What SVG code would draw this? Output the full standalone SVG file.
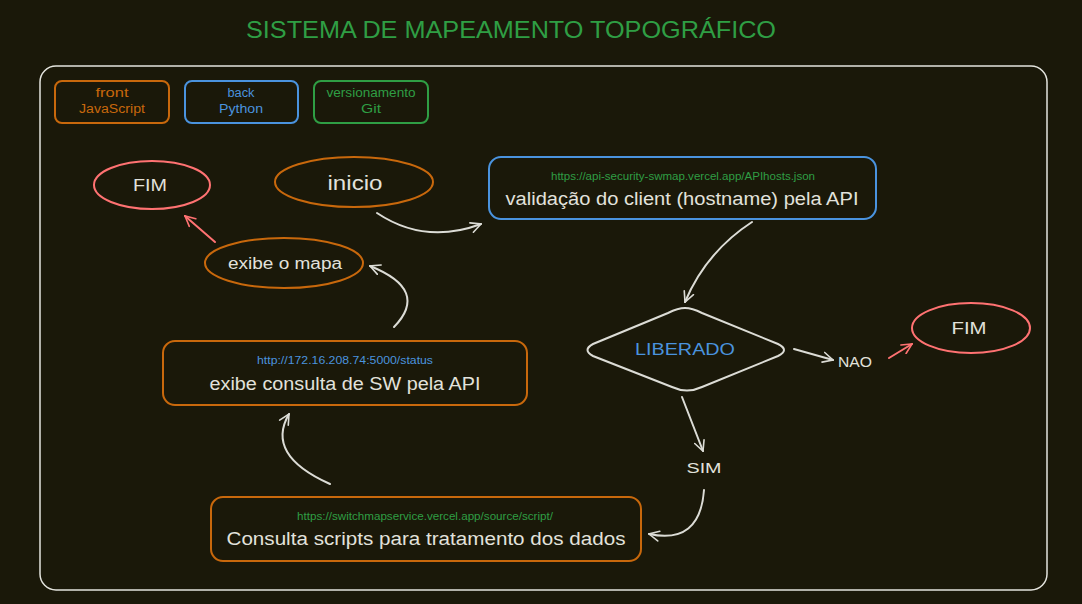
<svg xmlns="http://www.w3.org/2000/svg" width="1082" height="604" viewBox="0 0 1082 604">
<defs>
<style>
.bg{fill:#1a1809}
.t{font-family:"Liberation Sans","DejaVu Sans",sans-serif;fill:#e2e2dc;text-anchor:middle}
.main{font-size:18px}
.url{font-size:10px}
.leg{font-size:12.5px}
.nd{fill:none;stroke-width:2}
.or{stroke:#c8680c}
.bl{stroke:#4a93de}
.gr{stroke:#2f9e44}
.rd{stroke:#ff7272}
.wh{stroke:#dcdcd6}
.conn path{fill:none;stroke-width:2;stroke-linecap:round}
</style>
<marker id="aw" viewBox="0 0 12 12" refX="11" refY="6" markerWidth="12" markerHeight="12" markerUnits="userSpaceOnUse" orient="auto">
<path d="M1,1 L11,6 L1,11" fill="none" stroke="#dcdcd6" stroke-width="1.6" stroke-linecap="round"/>
</marker>
<marker id="ar" viewBox="0 0 12 12" refX="11" refY="6" markerWidth="12" markerHeight="12" markerUnits="userSpaceOnUse" orient="auto">
<path d="M1,1 L11,6 L1,11" fill="none" stroke="#ff7272" stroke-width="1.6" stroke-linecap="round"/>
</marker>
</defs>
<rect class="bg" x="0" y="0" width="1082" height="604"/>
<text x="511" y="38" font-family="'Liberation Sans',sans-serif" font-size="24" fill="#2f9e44" text-anchor="middle" textLength="530" lengthAdjust="spacingAndGlyphs">SISTEMA DE MAPEAMENTO TOPOGRÁFICO</text>
<rect id="frame" x="40" y="66" width="1007" height="524" rx="16" fill="none" stroke="#e4e4de" stroke-width="1.5"/>

<g id="legend-front">
<rect x="55" y="81" width="114" height="42" rx="7" fill="#1f2024" class="nd or"/>
<text class="t leg" x="112" y="97" style="fill:#c8680c" textLength="33" lengthAdjust="spacingAndGlyphs">front</text>
<text class="t leg" x="112" y="113" style="fill:#c8680c" textLength="66" lengthAdjust="spacingAndGlyphs">JavaScript</text>
</g>
<g id="legend-back">
<rect x="185" y="81" width="113" height="42" rx="7" fill="#1f2024" class="nd bl"/>
<text class="t leg" x="241" y="97" style="fill:#4a93de" textLength="27" lengthAdjust="spacingAndGlyphs">back</text>
<text class="t leg" x="241" y="113" style="fill:#4a93de" textLength="44" lengthAdjust="spacingAndGlyphs">Python</text>
</g>
<g id="legend-git">
<rect x="314" y="81" width="114" height="42" rx="7" fill="#1f2024" class="nd gr"/>
<text class="t leg" x="371" y="97" style="fill:#2f9e44" textLength="89" lengthAdjust="spacingAndGlyphs">versionamento</text>
<text class="t leg" x="371" y="113" style="fill:#2f9e44" textLength="20" lengthAdjust="spacingAndGlyphs">Git</text>
</g>

<g id="fim1">
<ellipse cx="152" cy="185" rx="58" ry="24" class="nd rd"/>
<text class="t" x="150" y="191" font-size="16" textLength="34" lengthAdjust="spacingAndGlyphs">FIM</text>
</g>
<g id="inicio">
<ellipse cx="354" cy="182" rx="79" ry="25" class="nd or"/>
<text class="t" x="355" y="190" font-size="20" textLength="55" lengthAdjust="spacingAndGlyphs">inicio</text>
</g>
<g id="exibe-mapa">
<ellipse cx="284" cy="263" rx="79" ry="25" class="nd or"/>
<text class="t" x="285" y="269" font-size="16" textLength="114" lengthAdjust="spacingAndGlyphs">exibe o mapa</text>
</g>
<g id="validacao">
<rect x="489" y="157" width="387" height="62" rx="12" class="nd bl"/>
<text class="t url" x="683" y="180" style="fill:#2f9e44" textLength="264" lengthAdjust="spacingAndGlyphs">https://api-security-swmap.vercel.app/APIhosts.json</text>
<text class="t main" x="682" y="205" textLength="353" lengthAdjust="spacingAndGlyphs">validação do client (hostname) pela API</text>
</g>
<g id="liberado">
<path d="M685,308 Q692,308 702,313 L778,344 Q790,350 778,356 L702,387 Q687,394 672,387 L593,356 Q582,350 593,344 L668,313 Q678,308 685,308 Z" class="nd wh"/>
<text class="t" x="685" y="355" font-size="16" style="fill:#4a93de" textLength="100" lengthAdjust="spacingAndGlyphs">LIBERADO</text>
</g>
<g id="nao">
<text class="t" x="855" y="367" font-size="15" textLength="34" lengthAdjust="spacingAndGlyphs">NAO</text>
</g>
<g id="fim2">
<ellipse cx="971" cy="328" rx="59" ry="25" class="nd rd"/>
<text class="t" x="969" y="334" font-size="16" textLength="35" lengthAdjust="spacingAndGlyphs">FIM</text>
</g>
<g id="sim">
<text class="t" x="704" y="473" font-size="15" textLength="35" lengthAdjust="spacingAndGlyphs">SIM</text>
</g>
<g id="exibe-consulta">
<rect x="163" y="341" width="364" height="64" rx="12" class="nd or"/>
<text class="t url" x="345" y="364" style="fill:#4a93de" textLength="176" lengthAdjust="spacingAndGlyphs">http://172.16.208.74:5000/status</text>
<text class="t main" x="345" y="390" textLength="271" lengthAdjust="spacingAndGlyphs">exibe consulta de SW pela API</text>
</g>
<g id="consulta-scripts">
<rect x="211" y="497" width="430" height="64" rx="12" class="nd or"/>
<text class="t url" x="425" y="520" style="fill:#2f9e44" textLength="256" lengthAdjust="spacingAndGlyphs">https://switchmapservice.vercel.app/source/script/</text>
<text class="t main" x="426" y="545" textLength="399" lengthAdjust="spacingAndGlyphs">Consulta scripts para tratamento dos dados</text>
</g>

<g id="connectors" class="conn">
<path class="wh" d="M377,213 Q425,245 481,224" marker-end="url(#aw)"/>
<path class="wh" d="M752,222 Q706,252 685,302" marker-end="url(#aw)"/>
<path class="wh" d="M794,349 L833,360" marker-end="url(#aw)"/>
<path class="rd" d="M889,358 L912,344" marker-end="url(#ar)"/>
<path class="wh" d="M682,397 L703,451" marker-end="url(#aw)"/>
<path class="wh" d="M704,490 Q700,545 649,534" marker-end="url(#aw)"/>
<path class="wh" d="M330,484 Q265,455 289,414" marker-end="url(#aw)"/>
<path class="wh" d="M394,327 Q430,290 370,266" marker-end="url(#aw)"/>
<path class="rd" d="M215,242 L185,216" marker-end="url(#ar)"/>
</g>
</svg>
